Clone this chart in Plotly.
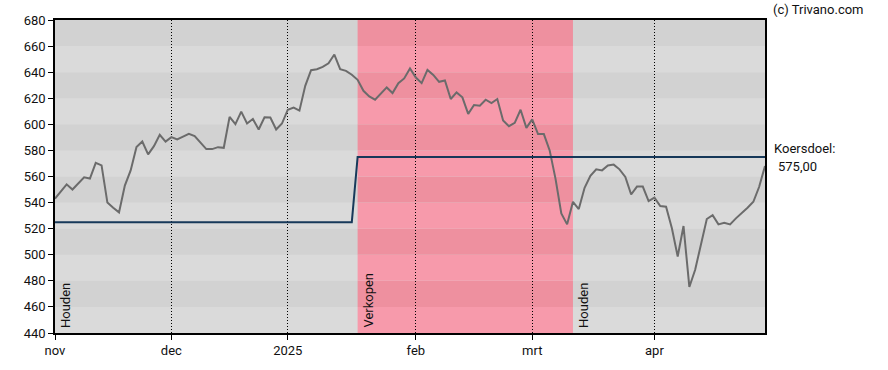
import plotly.graph_objects as go

# ---- data ----
tick_labels = ["nov", "dec", "2025", "feb", "mrt", "apr"]
tick_index = [0, 20, 40, 62, 82, 103]          # trading-day index of each month start

price = [
    543, 548.5, 554, 550, 554.7, 559.4, 558.4, 570.4, 568.5, 540,
    536, 532.5, 553, 564.7, 582.6, 586.8, 577, 583.3, 592, 586.8,
    590.2, 588.4, 590.5, 592.7, 591, 586, 581, 581, 582.5, 582,
    605.7, 600.1, 609.7, 600.6, 604.1, 596, 605.4, 605.2, 596, 600.6,
    611.2, 612.8, 610.5, 629.5, 641.5, 642.3, 644, 646.8, 653.5, 642.3,
    641, 638, 634.1, 625.7, 621.4, 618.9, 624, 628.3, 624, 631.6,
    635.2, 642.8, 635.9, 631.6, 641.7, 637.9, 632.6, 633.6, 619.4, 624.5,
    620.7, 608, 614.8, 614.3, 618.9, 616.3, 619.4, 602.9, 598.6, 601.1,
    611.2, 597.3, 603.8, 592.5, 592.5, 580, 558.4, 531.7, 523.3, 540.6,
    535, 551.3, 560.5, 565.5, 564.7, 568.5, 569.1, 565.5, 559.7, 546.2,
    552.3, 552.3, 541.2, 543.8, 537.3, 536.8, 520.3, 498.7, 522, 475.3,
    488.5, 508.1, 527.4, 530.4, 523.3, 524.6, 523.3, 527.9, 531.7, 536.1,
    540.6, 552.1, 568.1,
]

# price target (koersdoel) periods: (first index, last index, value)
target_periods = [(0, 51, 525), (52, 122, 575)]

# advice periods: (start index, end index, label, highlighted)
advice_periods = [(0, 52, "Houden", False), (52, 89, "Verkopen", True), (89, 122, "Houden", False)]

target_label = "Koersdoel:"
target_value_text = "575,00"
copyright_text = "(c) Trivano.com"

y_min, y_max, y_step = 440, 680, 20

# ---- build ----
day_index = list(range(len(price)))
target = []
for start, end, val in target_periods:
    target += [val] * (end - start + 1)

FONT = "Roboto, Arial, sans-serif"
TXT = "#111"
fig = go.Figure()

fig.add_trace(go.Scatter(x=day_index, y=price, mode="lines",
                         line=dict(color="#6b6b6b", width=2), hoverinfo="skip"))
fig.add_trace(go.Scatter(x=day_index, y=target, mode="lines",
                         line=dict(color="#17395a", width=2), hoverinfo="skip"))

shapes = []
# horizontal background bands
for lo in range(y_min, y_max, y_step):
    dark = (lo // y_step) % 2 == 1
    shapes.append(dict(type="rect", xref="paper", yref="y", x0=0, x1=1, y0=lo, y1=lo + y_step,
                       fillcolor="#d2d2d2" if dark else "#dadada", line=dict(width=0), layer="below"))
# highlighted (sell) period
for start, end, label, hi in advice_periods:
    if hi:
        for lo in range(y_min, y_max, y_step):
            dark = (lo // y_step) % 2 == 1
            shapes.append(dict(type="rect", xref="x", yref="y", x0=start, x1=end, y0=lo, y1=lo + y_step,
                               fillcolor="#ee909f" if dark else "#f79aab", line=dict(width=0), layer="below"))

annotations = []
for start, end, label, hi in advice_periods:
    annotations.append(dict(x=start, y=y_min, xref="x", yref="y", text=label, textangle=-90,
                            showarrow=False, xanchor="left", yanchor="bottom", xshift=1, yshift=3,
                            font=dict(family=FONT, size=13, color=TXT)))
annotations.append(dict(x=1.0, y=1.0, xref="paper", yref="paper", text=copyright_text, showarrow=False,
                        xanchor="left", yanchor="middle", xshift=6, yshift=11,
                        font=dict(family=FONT, size=13, color=TXT)))
annotations.append(dict(x=1.0, y=target[-1], xref="paper", yref="y", text=target_label, showarrow=False,
                        xanchor="left", yanchor="middle", xshift=7, yshift=8,
                        font=dict(family=FONT, size=13, color=TXT)))
annotations.append(dict(x=1.0, y=target[-1], xref="paper", yref="y", text=target_value_text, showarrow=False,
                        xanchor="left", yanchor="middle", xshift=11, yshift=-10,
                        font=dict(family=FONT, size=13, color=TXT)))

fig.update_layout(
    width=888, height=370,
    margin=dict(l=55, r=123, t=20, b=34),
    paper_bgcolor="white", plot_bgcolor="#dadada",
    showlegend=False,
    shapes=shapes, annotations=annotations,
    font=dict(family=FONT, size=13, color=TXT),
    xaxis=dict(range=[0, len(price) - 1], tickmode="array", tickvals=tick_index, ticktext=tick_labels,
               showgrid=True, gridcolor="black", griddash="1px,2px", gridwidth=1,
               showline=True, linecolor="black", linewidth=1.5, mirror=True,
               ticks="outside", ticklen=5, tickcolor="black", zeroline=False),
    yaxis=dict(range=[y_min, y_max], tick0=y_min, dtick=y_step, showgrid=False,
               showline=True, linecolor="black", linewidth=1.5, mirror=True,
               ticks="outside", ticklen=5, tickcolor="black", zeroline=False),
)

fig.write_html("out.html", config={"displayModeBar": False},
               post_script="document.body.style.margin='0';")
